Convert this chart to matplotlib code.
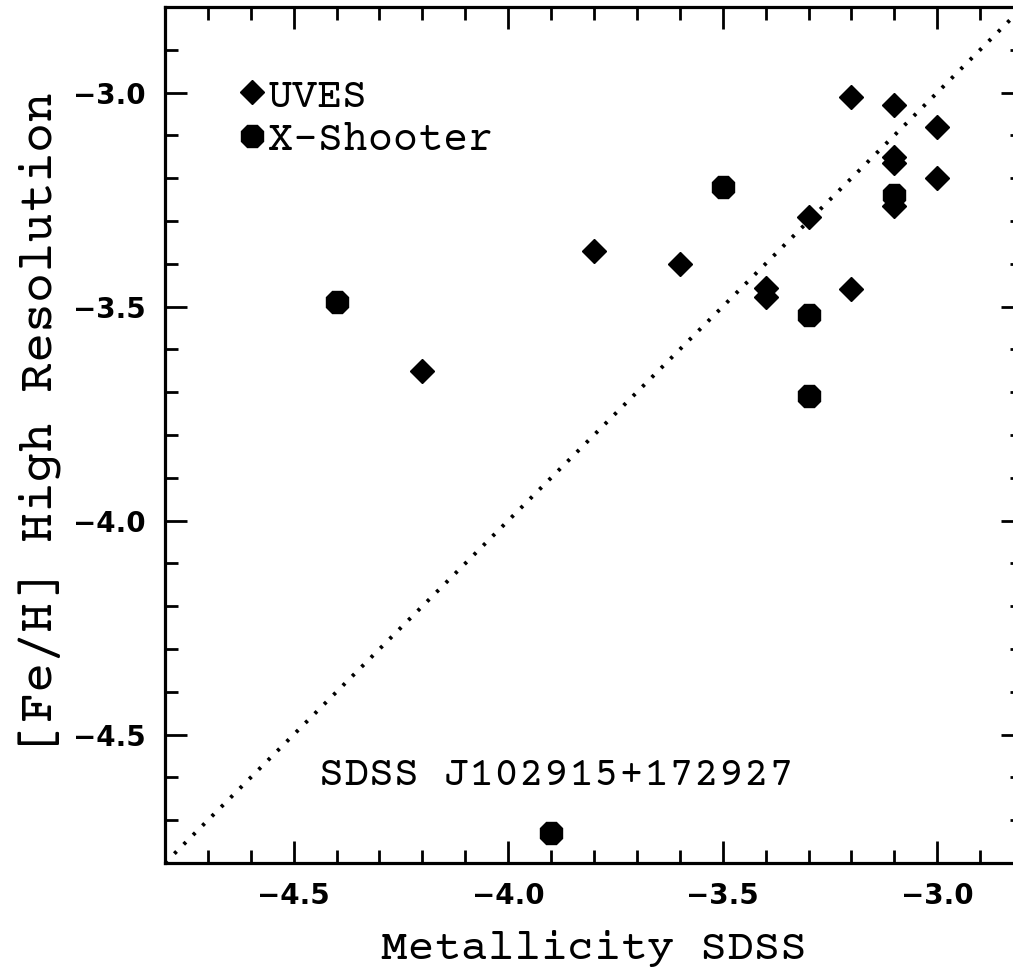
import matplotlib
matplotlib.use("Agg")
import matplotlib.pyplot as plt
import numpy as np

# UVES (diamonds)
uves_x = [-3.2, -3.1, -3.0, -3.1, -3.1, -3.0, -3.1, -3.3, -3.8, -3.6, -3.4, -3.4, -3.2, -4.2]
uves_y = [-3.01, -3.03, -3.08, -3.15, -3.165, -3.20, -3.266, -3.29, -3.37, -3.40, -3.457, -3.478, -3.46, -3.65]
# X-Shooter (circles)
xs_x = [-3.5, -3.1, -4.4, -3.3, -3.3, -3.9]
xs_y = [-3.22, -3.24, -3.49, -3.52, -3.71, -4.73]

one_to_one = [-4.8, -2.8]
xlim = (-4.8, -2.8)
ylim = (-4.8, -2.8)
major_ticks = [-4.5, -4.0, -3.5, -3.0]
annotation = "SDSS J102915+172927"

W, H = 1013, 976
fig = plt.figure(figsize=(W / 100, H / 100), dpi=100)
ax = fig.add_axes([165 / W, (H - 863) / H, 858 / W, 856 / H])

serif = ["Courier Prime", "DejaVu Sans Mono"]

ax.plot(one_to_one, one_to_one, color="black", lw=2.8,
        linestyle=(0, (0.8, 2.6)), dash_capstyle="butt", zorder=1)
ax.plot(uves_x, uves_y, linestyle="none", marker="D", ms=12.3, color="black",
        mec="black", label="UVES", zorder=3)
ax.plot(xs_x, xs_y, linestyle="none", marker="8", ms=17, color="black",
        mec="black", label="X-Shooter", zorder=3)

ax.text(-4.44, -4.595, annotation, fontsize=30, family=serif,
        ha="left", va="center")

ax.set_xlim(*xlim)
ax.set_ylim(*ylim)
ax.set_xticks(major_ticks)
ax.set_yticks(major_ticks)
ax.set_xticks(np.round(np.arange(-4.8, -2.79, 0.1), 2), minor=True)
ax.set_yticks(np.round(np.arange(-4.8, -2.79, 0.1), 2), minor=True)
ax.set_xticklabels([f"{v:.1f}".replace("-", "\u2212") for v in major_ticks])
ax.set_yticklabels([f"{v:.1f}".replace("-", "\u2212") for v in major_ticks])

ax.tick_params(which="both", direction="in", top=True, right=True, width=2,
               labelsize=20, pad=14)
ax.tick_params(which="major", length=15.5)
ax.tick_params(which="minor", length=9.7)
for lab in ax.get_xticklabels() + ax.get_yticklabels():
    lab.set_family("DejaVu Sans")
    lab.set_fontweight("bold")
for s in ax.spines.values():
    s.set_linewidth(2.3)

ax.set_xlabel("Metallicity SDSS", fontsize=32, family=serif, labelpad=14)
ax.set_ylabel("[Fe/H] High Resolution", fontsize=36, family=serif, va="center")
ax.yaxis.set_label_coords(-0.1457, 0.515)

leg = ax.legend(loc="center left", bbox_to_anchor=(0.0868, 0.8705), frameon=False,
                prop={"family": serif, "size": 30}, handlelength=0.6,
                handletextpad=0.08, labelspacing=0.15, borderpad=0,
                borderaxespad=0, markerscale=1.0)

fig.savefig("out.png", dpi=100)
